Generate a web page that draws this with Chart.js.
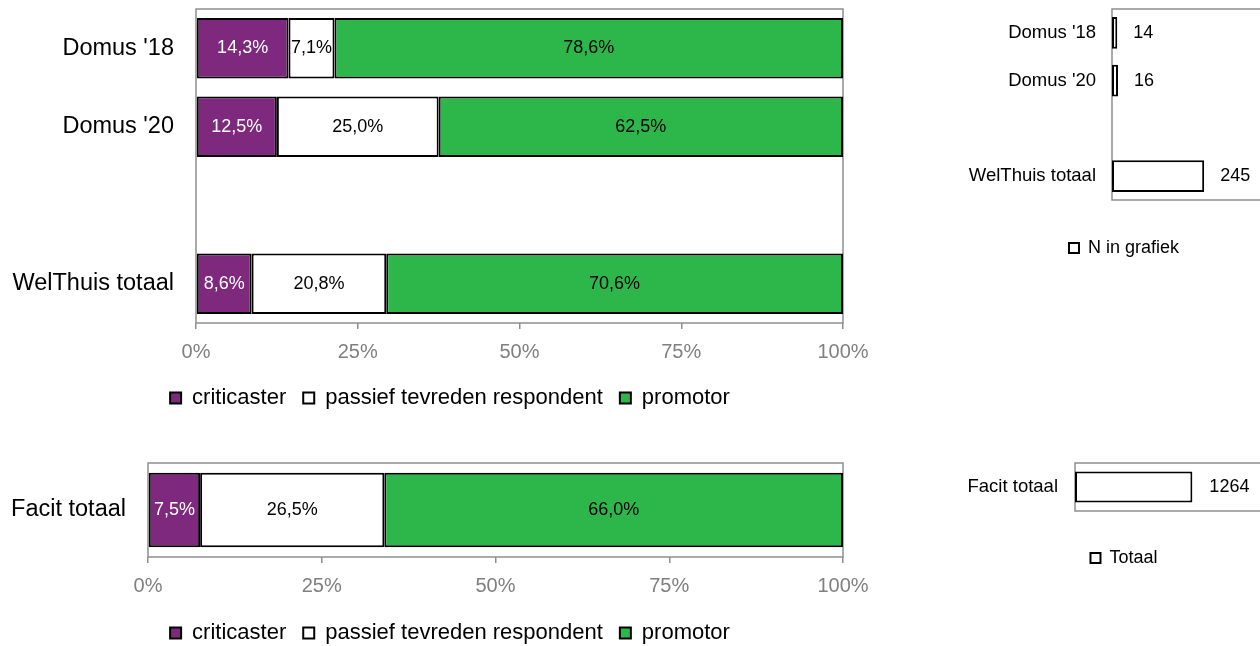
<!DOCTYPE html>
<html>
<head>
<meta charset="utf-8">
<script src="https://cdn.jsdelivr.net/npm/chart.js@4"></script>
<style>
  html, body { margin: 0; padding: 0; background: #fff; }
  #wrap { position: relative; width: 1260px; height: 646px; overflow: hidden; }
  canvas { position: absolute; }
</style>
</head>
<body>
<div id="wrap">
  <canvas id="npsTop" width="900" height="419" style="left:0;top:0"></canvas>
  <canvas id="nTop" width="448" height="267" style="left:900px;top:0"></canvas>
  <canvas id="npsFacit" width="900" height="200" style="left:0;top:454px"></canvas>
  <canvas id="nFacit" width="448" height="123" style="left:900px;top:454px"></canvas>
</div>
<script>
const FONT = "'Liberation Sans', Arial, sans-serif";
const PURPLE = '#7e297e';
const GREEN = '#2db74a';
const GREY = '#8f8f8f';

// WelThuis (lege rij tussen Domus en totaal)
const categories = ["Domus '18", "Domus '20", "", "WelThuis totaal"];
const criticaster = [14.3, 12.5, null, 8.6];
const passief = [7.1, 25.0, null, 20.8];
const promotor = [78.6, 62.5, null, 70.6];
const nInGrafiek = [14, 16, null, 245];

// Facit
const facitCategories = ["Facit totaal"];
const facitCriticaster = [7.5];
const facitPassief = [26.5];
const facitPromotor = [66.0];
const facitTotaal = [1264];

const pctTicks = [0, 25, 50, 75, 100];

// grijze rand om het plotvlak, onder de balken
const plotBorder = {
  id: 'plotBorder',
  beforeDatasetsDraw(chart) {
    const { ctx, chartArea: a } = chart;
    ctx.save();
    ctx.strokeStyle = GREY;
    ctx.lineWidth = 1.5;
    ctx.strokeRect(a.left, a.top, a.right - a.left, a.bottom - a.top);
    ctx.restore();
  }
};

// waardes in of naast de balken
const barLabels = {
  id: 'barLabels',
  afterDatasetsDraw(chart, args, opts) {
    const ctx = chart.ctx;
    ctx.save();
    ctx.font = '18px ' + FONT;
    ctx.textBaseline = 'middle';
    chart.data.datasets.forEach((ds, i) => {
      chart.getDatasetMeta(i).data.forEach((bar, j) => {
        const v = ds.data[j];
        if (v == null) return;
        if (opts.mode === 'inside') {
          ctx.textAlign = 'center';
          ctx.fillStyle = ds.labelColor;
          ctx.fillText(v.toFixed(1).replace('.', ',') + '%', (bar.x + bar.base) / 2, bar.y);
        } else {
          ctx.textAlign = 'left';
          ctx.fillStyle = '#000';
          ctx.fillText(String(v), bar.x + opts.offset, bar.y);
        }
      });
    });
    ctx.restore();
  }
};

function noPad(s) {
  s.paddingTop = 0; s.paddingBottom = 0; s.paddingLeft = 0; s.paddingRight = 0;
}

function spacerAxis(w) {
  return {
    type: 'category', position: 'right', display: true,
    ticks: { display: false }, grid: { display: false, drawTicks: false }, border: { display: false },
    afterFit: s => { s.width = w; noPad(s); }
  };
}

function npsChart(id, labels, crit, pas, prom, axisW, xAxisH, barPct) {
  return new Chart(document.getElementById(id), {
    type: 'bar',
    data: {
      labels: labels,
      datasets: [
        { label: 'criticaster', data: crit, backgroundColor: PURPLE, labelColor: '#fff' },
        { label: 'passief tevreden respondent', data: pas, backgroundColor: '#fff', labelColor: '#000' },
        { label: 'promotor', data: prom, backgroundColor: GREEN, labelColor: '#000' }
      ]
    },
    options: {
      indexAxis: 'y',
      responsive: false,
      animation: false,
      layout: { padding: { top: 9 } },
      datasets: {
        bar: { borderColor: '#000', borderWidth: 2, borderSkipped: false, categoryPercentage: 1, barPercentage: barPct }
      },
      scales: {
        x: {
          stacked: true, min: 0, max: 100,
          afterBuildTicks: s => { s.ticks = pctTicks.map(v => ({ value: v })); },
          ticks: { callback: v => v + '%', color: '#808080', font: { size: 20, family: FONT }, padding: 11, maxRotation: 0 },
          grid: { drawOnChartArea: false, tickLength: 6, color: GREY, lineWidth: 1.5 },
          border: { display: false },
          afterFit: s => { s.height = xAxisH; noPad(s); }
        },
        y: {
          stacked: true,
          ticks: { color: '#000', font: { size: 23.5, family: FONT }, padding: 22 },
          grid: { display: false, drawTicks: false },
          border: { display: false },
          afterFit: s => { s.width = axisW; noPad(s); }
        },
        yRight: spacerAxis(57)
      },
      plugins: {
        legend: {
          position: 'bottom',
          labels: { boxWidth: 11, boxHeight: 11, padding: 17, color: '#000', font: { size: 22, family: FONT } }
        },
        tooltip: { enabled: false },
        barLabels: { mode: 'inside' }
      }
    },
    plugins: [plotBorder, barLabels]
  });
}

function countChart(id, labels, values, legendLabel, axisW, xAxisH, max, barPct, offset) {
  return new Chart(document.getElementById(id), {
    type: 'bar',
    data: {
      labels: labels,
      datasets: [{ label: legendLabel, data: values, backgroundColor: '#fff', borderColor: '#000', borderWidth: 2 }]
    },
    options: {
      indexAxis: 'y',
      responsive: false,
      animation: false,
      layout: { padding: { top: 9 } },
      datasets: {
        bar: { borderSkipped: false, categoryPercentage: 1, barPercentage: barPct }
      },
      scales: {
        x: {
          min: 0, max: max,
          ticks: { display: false },
          grid: { display: false, drawTicks: false },
          border: { display: false },
          afterFit: s => { s.height = xAxisH; noPad(s); }
        },
        y: {
          ticks: { color: '#000', font: { size: 18.5, family: FONT }, padding: offset },
          grid: { display: false, drawTicks: false },
          border: { display: false },
          afterFit: s => { s.width = axisW; noPad(s); }
        },
        yRight: spacerAxis(78)
      },
      plugins: {
        legend: {
          position: 'bottom',
          labels: { boxWidth: 10, boxHeight: 10, padding: 10, color: '#000', font: { size: 18, family: FONT } }
        },
        tooltip: { enabled: false },
        barLabels: { mode: 'outside', offset: offset }
      }
    },
    plugins: [plotBorder, barLabels]
  });
}

npsChart('npsTop', categories, criticaster, passief, promotor, 196, 47, 0.77);
countChart('nTop', categories, nInGrafiek, 'N in grafiek', 212, 29, 420, 0.67, 16);
npsChart('npsFacit', facitCategories, facitCriticaster, facitPassief, facitPromotor, 148, 48, 0.79);
countChart('nFacit', facitCategories, facitTotaal, 'Totaal', 175, 28, 2100, 0.65, 17);
</script>
</body>
</html>
